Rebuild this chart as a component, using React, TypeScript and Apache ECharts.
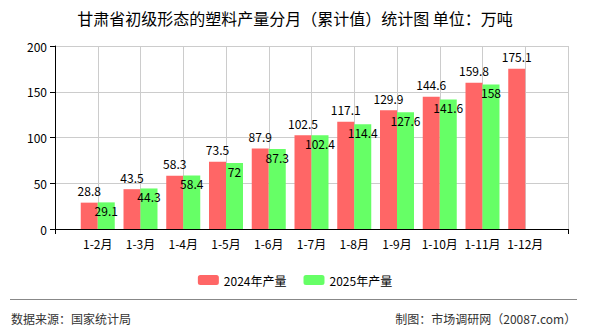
import React, { useEffect, useRef } from "react";
import * as echarts from "echarts";

const categories = ["1-2月", "1-3月", "1-4月", "1-5月", "1-6月", "1-7月", "1-8月", "1-9月", "1-10月", "1-11月", "1-12月"];
const output2024 = [28.8, 43.5, 58.3, 73.5, 87.9, 102.5, 117.1, 129.9, 144.6, 159.8, 175.1];
const output2025 = [29.1, 44.3, 58.4, 72, 87.3, 102.4, 114.4, 127.6, 141.6, 158, null];
const yTicks = { min: 0, max: 200, interval: 50 };

const FONT = "'Noto Sans CJK SC', 'DejaVu Sans', sans-serif";

// The axis runs edge to edge (no boundary gap) with an empty slot at each end,
// so every month sits on a grid line and the bar pair straddles it.
const axisData = ["", ...categories, ""];
const pad = (arr: (number | null)[]) => [null, ...arr, null];

export default function App() {
  const ref = useRef<HTMLDivElement>(null);

  useEffect(() => {
    if (!ref.current) return;
    const chart = echarts.init(ref.current, null, { renderer: "svg" });
    const last = axisData.length - 1;
    chart.setOption({
      animation: false,
      backgroundColor: "#ffffff",
      textStyle: { fontFamily: FONT },
      title: {
        text: "甘肃省初级形态的塑料产量分月（累计值）统计图 单位：万吨",
        left: "center",
        top: 5,
        textStyle: { fontSize: 16, fontWeight: "normal", color: "#000", fontFamily: FONT },
      },
      legend: {
        top: 269,
        left: "center",
        itemWidth: 21,
        itemHeight: 10,
        itemGap: 17,
        textStyle: { fontSize: 12, color: "#000", fontFamily: FONT },
        data: ["2024年产量", "2025年产量"],
      },
      grid: { left: 55, right: 22, top: 46, bottom: 101 },
      xAxis: {
        type: "category",
        data: axisData,
        boundaryGap: false,
        axisLine: { lineStyle: { color: "#000" } },
        axisTick: {
          show: true,
          interval: (i: number) => i === 0 || i === last,
          lineStyle: { color: "#000" },
        },
        axisLabel: { color: "#000", fontSize: 12, fontFamily: FONT, interval: 0 },
        splitLine: { show: true, interval: 0, lineStyle: { color: "#cccccc" } },
      },
      yAxis: {
        type: "value",
        min: yTicks.min,
        max: yTicks.max,
        interval: yTicks.interval,
        axisLine: { show: true, lineStyle: { color: "#000" } },
        axisTick: { show: true, lineStyle: { color: "#000" } },
        axisLabel: { color: "#000", fontSize: 12, fontFamily: FONT },
        splitLine: { show: true, lineStyle: { color: "#cccccc" } },
      },
      series: [
        {
          name: "2024年产量",
          type: "bar",
          data: pad(output2024),
          barWidth: 17,
          barGap: "0%",
          itemStyle: { color: "#ff6666" },
          label: { show: true, position: "top", distance: 6, color: "#000", fontSize: 12, fontFamily: FONT },
        },
        {
          name: "2025年产量",
          type: "bar",
          data: pad(output2025),
          barWidth: 17,
          barGap: "0%",
          itemStyle: { color: "#66ff66" },
          label: { show: true, position: "insideTop", distance: 2, color: "#000", fontSize: 12, fontFamily: FONT },
        },
      ],
      graphic: [
        {
          type: "line",
          shape: { x1: 10, y1: 299.5, x2: 577, y2: 299.5 },
          style: { stroke: "#888888", lineWidth: 1 },
        },
        {
          type: "text",
          left: 11,
          top: 312,
          style: { text: "数据来源：国家统计局", fontSize: 12, fill: "#333", fontFamily: FONT },
        },
        {
          type: "text",
          right: 14,
          top: 312,
          style: { text: "制图：市场调研网（20087.com）", fontSize: 12, fill: "#333", fontFamily: FONT },
        },
      ],
    });
    return () => chart.dispose();
  }, []);

  return <div ref={ref} style={{ width: 590, height: 330, position: "absolute", left: 0, top: 0 }} />;
}
